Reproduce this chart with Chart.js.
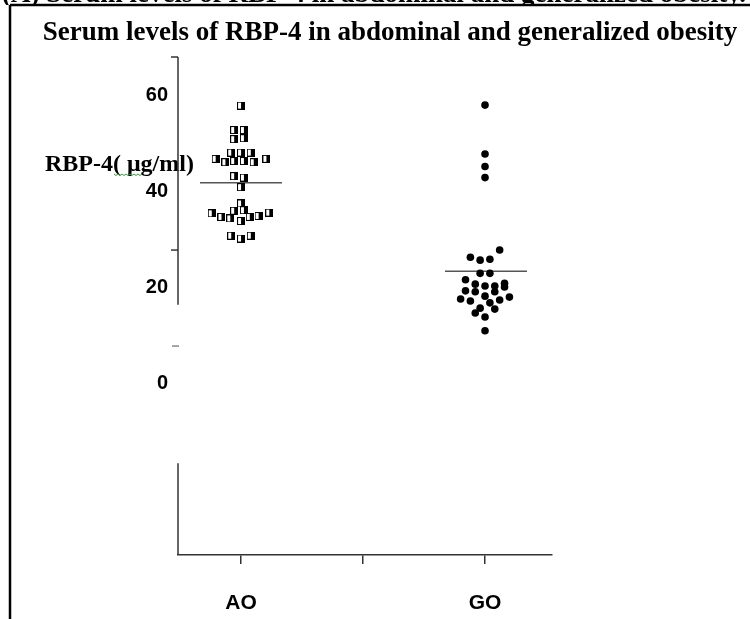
<!DOCTYPE html>
<html>
<head>
<meta charset="utf-8">
<script src="https://cdn.jsdelivr.net/npm/chart.js@4.4.0/dist/chart.umd.min.js"></script>
<style>
  html, body { margin: 0; padding: 0; background: #fff; }
</style>
</head>
<body>
<canvas id="chart" width="750" height="619"></canvas>
<script>
// categories and values
const categories = ['AO', 'GO'];
const yTickValues = [0, 20, 40, 60];
const chartTitle = 'Serum levels of RBP-4 in abdominal and generalized obesity';
const figCaption = '(A) Serum levels of RBP-4 in abdominal and generalized obesity.';
const yAxisLabel = 'RBP-4( μg/ml)';

// AO group (abdominal obesity) - RBP-4 values, and column slot in the dot plot
const aoValues = [57.8, 52.7, 52.7, 50.8, 51.0, 48.0, 48.0, 48.0, 46.7, 46.0,
                  46.25, 46.25, 46.0, 46.7, 43.1, 42.8, 40.8, 37.4, 35.9, 36.0,
                  35.35, 34.6, 34.3, 33.75, 34.6, 34.8, 35.5, 30.7, 30.1, 30.7];
const aoSlots  = [0, -0.7, 0.3, -0.7, 0.3, -1, 0, 1, -2.6, -1.6,
                  -0.7, 0.3, 1.3, 2.6, -0.7, 0.3, 0, 0, -0.7, 0.3,
                  -3, -2, -1.1, 0, 0.9, 1.8, 2.9, -1, 0, 1];
const aoMean = 41.7;

// GO group (generalized obesity)
const goValues = [57.9, 47.7, 45.1, 42.8, 27.7, 26.2, 25.6, 25.8, 22.85, 22.85,
                  21.5, 20.6, 20.2, 20.2, 20.8, 20.0, 19.2, 19.0, 18.1, 19.0,
                  17.5, 17.1, 16.7, 17.3, 17.9, 15.6, 15.4, 14.6, 13.75, 10.9];
const goSlots  = [0, 0, 0, 0, 1.5, -1.5, -0.5, 0.5, -0.5, 0.5,
                  -2, -1, 0, 1, 2, 2, -2, -1, 0, 1,
                  -2.5, -1.5, 0.5, 1.5, 2.5, -0.5, 1, -1, 0, 0];
const goMean = 23.3;

const slotWidth = 0.08;   // horizontal spread of one marker, in x units

function toPoints(values, slots, center) {
  return values.map((v, i) => ({ x: center + slots[i] * slotWidth, y: v }));
}

// half-open square marker like in the original
function squareMarker() {
  const c = document.createElement('canvas');
  c.width = 8; c.height = 8;
  const g = c.getContext('2d');
  g.fillStyle = '#000';
  g.fillRect(0, 0, 8, 8);
  g.fillStyle = '#fff';
  g.fillRect(1, 1, 3, 6);
  return c;
}

function line(ctx, x1, y1, x2, y2) {
  ctx.beginPath();
  ctx.moveTo(x1, y1);
  ctx.lineTo(x2, y2);
  ctx.stroke();
}

const serif = '"Liberation Serif", "Times New Roman", serif';

// frame, cut caption, title, axis label and the broken y axis
const decor = {
  id: 'decor',
  beforeDraw(chart) {
    const ctx = chart.ctx;
    ctx.save();
    ctx.fillStyle = '#fff';
    ctx.fillRect(0, 0, chart.width, chart.height);
    // caption of the figure, mostly cut off at the top
    ctx.fillStyle = '#000';
    ctx.font = 'bold 27px ' + serif;
    ctx.textBaseline = 'alphabetic';
    ctx.fillText(figCaption, 2, 2);
    ctx.fillStyle = '#fff';
    ctx.fillRect(0, 5, chart.width, chart.height);
    // frame
    ctx.strokeStyle = '#000';
    ctx.lineWidth = 2.5;
    line(ctx, 10, 5, 10, chart.height);
    line(ctx, 10, 5, chart.width, 5);
    // title
    ctx.fillStyle = '#000';
    ctx.font = 'bold 27px ' + serif;
    ctx.textAlign = 'center';
    ctx.textBaseline = 'middle';
    ctx.fillText(chartTitle, 390, 33);
    ctx.restore();
  },
  beforeDatasetsDraw(chart) {
    const ctx = chart.ctx;
    const ys = chart.scales.y;
    const x0 = chart.chartArea.left;
    ctx.save();
    // axis label
    ctx.fillStyle = '#000';
    ctx.font = 'bold 24px ' + serif;
    ctx.textBaseline = 'alphabetic';
    ctx.fillText(yAxisLabel, 45, 171);
    // spell-check squiggle under "μg"
    ctx.strokeStyle = '#3c9a3c';
    ctx.lineWidth = 1;
    ctx.beginPath();
    for (let i = 0; i <= 14; i++) {
      const px = 114 + i * 2;
      const py = 174 + (i % 2 ? 1.5 : 0);
      if (i === 0) ctx.moveTo(px, py); else ctx.lineTo(px, py);
    }
    ctx.stroke();
    // broken y axis
    ctx.strokeStyle = '#333';
    ctx.lineWidth = 1.5;
    line(ctx, x0, ys.top, x0, ys.getPixelForValue(16.3));
    line(ctx, x0 - 7, ys.top, x0, ys.top);
    line(ctx, x0 - 7, ys.getPixelForValue(27.7), x0, ys.getPixelForValue(27.7));
    line(ctx, x0, ys.getPixelForValue(-16.7), x0, ys.bottom);
    ctx.strokeStyle = '#888';
    line(ctx, x0 - 6, ys.getPixelForValue(7.7), x0 + 1, ys.getPixelForValue(7.7));
    ctx.restore();
  }
};

const ctx = document.getElementById('chart');
new Chart(ctx, {
  type: 'scatter',
  data: {
    datasets: [
      {
        label: 'AO',
        data: toPoints(aoValues, aoSlots, 1),
        pointStyle: squareMarker(),
        pointRadius: 4
      },
      {
        label: 'GO',
        data: toPoints(goValues, goSlots, 3),
        pointStyle: 'circle',
        pointRadius: 3.8,
        backgroundColor: '#000',
        borderColor: '#000',
        borderWidth: 0
      },
      {
        type: 'line',
        label: 'AO mean',
        data: [{ x: 1 - 0.336, y: aoMean }, { x: 1 + 0.336, y: aoMean }],
        borderColor: '#555',
        borderWidth: 1.5,
        pointRadius: 0
      },
      {
        type: 'line',
        label: 'GO mean',
        data: [{ x: 3 - 0.328, y: goMean }, { x: 3 + 0.344, y: goMean }],
        borderColor: '#555',
        borderWidth: 1.5,
        pointRadius: 0
      }
    ]
  },
  options: {
    responsive: false,
    animation: false,
    layout: { padding: { left: 0, right: 198, top: 57, bottom: 0 } },
    plugins: {
      legend: { display: false },
      tooltip: { enabled: false },
      title: { display: false }
    },
    scales: {
      x: {
        type: 'linear',
        min: 0.4836,
        max: 3.549,
        afterFit(scale) { scale.height = 64; },
        afterBuildTicks(scale) { scale.ticks = [1, 2, 3].map(v => ({ value: v })); },
        grid: { drawOnChartArea: false, drawTicks: true, tickLength: 9, color: '#333', lineWidth: 1.5 },
        border: { display: true, color: '#333', width: 1.5 },
        ticks: {
          padding: 27,
          color: '#000',
          font: { family: '"Liberation Sans", Arial, sans-serif', size: 21, weight: 'bold' },
          callback: v => (v === 1 ? categories[0] : v === 3 ? categories[1] : '')
        }
      },
      y: {
        min: -35.83,
        max: 67.92,
        afterFit(scale) { scale.width = 178; },
        afterBuildTicks(scale) { scale.ticks = yTickValues.map(v => ({ value: v })); },
        grid: { display: false, drawTicks: false },
        border: { display: false },
        ticks: {
          padding: 10,
          color: '#000',
          font: { family: '"Liberation Sans", Arial, sans-serif', size: 20, weight: 'bold' }
        }
      }
    }
  },
  plugins: [decor]
});
</script>
</body>
</html>
